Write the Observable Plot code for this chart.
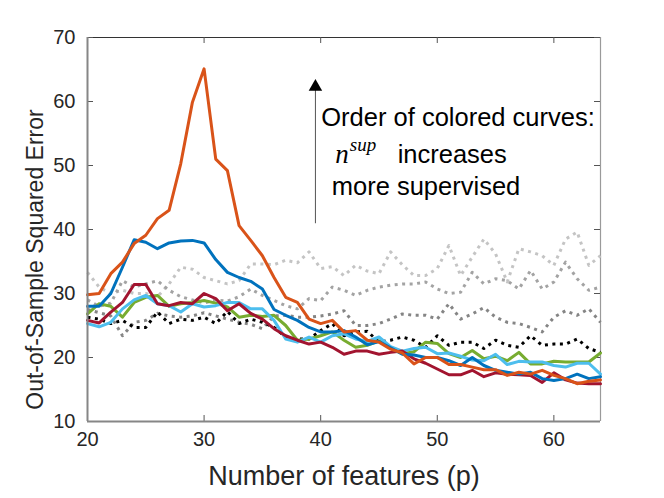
<!DOCTYPE html>
<html><head><meta charset="utf-8">
<script src="https://cdn.jsdelivr.net/npm/d3@7"></script>
<script src="https://cdn.jsdelivr.net/npm/@observablehq/plot@0.6"></script>
<style>body{margin:0;background:#fff;overflow:hidden}</style>
</head><body><div id="chart"></div>
<script>
const features = [20,21,22,23,24,25,26,27,28,29,30,31,32,33,34,35,36,37,38,39,40,41,42,43,44,45,46,47,48,49,50,51,52,53,54,55,56,57,58,59,60,61,62,63,64];

const lightGray = [33.3,31.0,30.0,30.5,30.0,30.0,29.5,31.5,34.1,33.8,32.5,32.0,31.5,32.0,34.6,34.6,34.5,35.2,34.8,36.5,33.9,34.2,32.8,34.4,33.5,33.1,36.5,34.5,32.8,32.8,33.9,37.5,32.8,35.7,38.5,36.2,31.8,37.0,36.5,35.9,34.4,38.5,39.6,34.4,35.9];
const midGray = [29.0,28.0,28.5,32.0,31.0,31.5,32.0,30.5,29.5,29.0,28.5,29.0,28.8,29.5,30.7,29.7,28.9,28.1,27.6,29.2,28.9,31.0,30.5,29.7,30.5,31.0,31.3,31.5,31.5,31.8,30.7,30.0,30.2,33.3,31.5,32.3,32.0,30.7,33.6,30.7,31.8,34.9,32.3,30.5,31.0];
const darkGray = [27.5,27.0,26.5,23.4,25.5,25.8,26.9,26.5,26.3,26.5,27.0,26.5,26.0,25.5,25.2,24.5,26.5,26.6,26.3,26.3,26.5,26.8,27.3,25.0,25.0,25.3,26.0,26.8,26.6,26.6,26.0,28.4,26.0,26.8,27.8,26.3,25.5,25.3,24.7,24.0,26.3,27.3,26.6,27.6,25.5];
const blackDotted = [26.3,26.0,25.3,25.8,24.7,24.7,27.1,25.3,26.0,25.8,26.3,25.3,27.2,25.3,26.0,25.5,24.7,23.2,22.9,22.9,24.2,25.3,23.4,24.0,24.1,22.4,22.7,23.2,22.7,21.6,23.4,21.9,22.4,22.4,21.4,22.7,21.9,21.6,23.4,21.9,22.1,22.1,22.9,21.4,20.8];
const green = [26.8,28.4,28.0,26.3,28.6,29.4,29.7,28.0,28.4,28.6,28.9,28.5,27.9,26.3,26.6,26.4,26.6,25.0,22.7,22.9,23.4,24.0,22.7,21.6,21.9,22.6,21.5,20.6,20.9,22.4,22.2,20.6,20.0,21.1,19.8,20.2,19.5,20.8,19.0,19.0,19.4,19.3,19.3,19.3,20.7];
const lightBlue = [25.3,24.8,25.5,27.6,29.0,29.7,28.4,28.1,27.1,28.4,27.9,28.1,28.6,28.6,27.6,27.6,25.8,22.9,22.4,23.2,22.4,23.4,23.7,22.9,22.5,23.2,21.7,21.0,21.4,21.6,20.6,20.7,20.2,19.6,19.5,20.5,18.9,19.4,19.3,19.3,18.75,18.5,19.1,19.1,17.4];
const crimson = [25.8,25.4,27.1,28.6,31.4,31.4,28.4,28.1,28.6,28.4,30.0,29.2,27.3,28.4,26.9,26.0,24.5,23.4,22.7,22.1,22.4,21.6,20.5,21.0,21.0,20.5,20.8,21.0,19.8,19.1,18.2,17.3,17.3,18.0,17.0,17.6,17.4,17.3,17.2,16.1,17.6,16.5,16.0,15.9,15.9];
const blue = [28.0,28.0,30.0,34.1,38.4,38.0,37.0,37.9,38.2,38.3,37.9,35.3,33.3,32.5,31.9,30.7,27.5,26.6,25.8,24.7,24.0,24.0,24.2,23.2,22.0,22.5,21.5,20.5,20.4,20.0,20.0,19.5,18.75,20.0,18.75,18.0,17.7,17.4,17.7,16.7,16.4,16.7,17.4,16.7,17.0];
const orange = [29.8,30.0,33.1,34.9,37.8,39.1,41.7,43.0,50.3,59.9,65.1,51.0,49.2,40.6,38.3,35.9,32.5,29.4,28.6,26.0,25.3,25.8,24.0,24.2,22.7,22.4,21.3,20.7,19.0,20.0,20.0,18.9,18.9,18.5,18.1,18.1,17.2,17.7,17.4,18.0,17.2,16.7,15.9,16.3,16.5];

const xTicks = [20,30,40,50,60];
const yTicks = [10,20,30,40,50,60,70];
const xLabel = "Number of features (p)";
const yLabel = "Out-of-Sample Squared Error";
const noteLines = ["Order of colored curves:", "increases", "more supervised"];
const noteX = [40.05, 46.6, 40.95];
const noteY = [57.5, 51.7, 46.6];
const arrowPos = [{x: 39.55, y1: 40.9, y2: 62.3}];

const dotted = [
  {name: "lightGray", values: lightGray, color: "#c4c4c4"},
  {name: "midGray", values: midGray, color: "#a3a3a3"},
  {name: "darkGray", values: darkGray, color: "#858585"},
  {name: "black", values: blackDotted, color: "#000000"}
];
const solid = [
  {name: "green", values: green, color: "#77AC30"},
  {name: "lightBlue", values: lightBlue, color: "#4DBEEE"},
  {name: "crimson", values: crimson, color: "#A2142F"},
  {name: "blue", values: blue, color: "#0072BD"},
  {name: "orange", values: orange, color: "#D95319"}
];
const toRows = s => features.map((p, i) => ({p, v: s.values[i]}));

const W = 664, H = 498, mL = 87, mR = 64, mT = 37, mB = 77;
const fw = W - mL - mR, fh = H - mT - mB, tl = 6;

const marks = [];
marks.push(Plot.ruleY([70], {stroke: "#333", strokeWidth: 1}));
marks.push(Plot.ruleX([64], {stroke: "#9a9a9a", strokeWidth: 1.2}));
marks.push(Plot.tickX(xTicks, {x: d => d, insetTop: fh - tl, stroke: "#555"}));
marks.push(Plot.tickX(xTicks, {x: d => d, insetBottom: fh - tl, stroke: "#555"}));
marks.push(Plot.tickY(yTicks, {y: d => d, insetRight: fw - tl, stroke: "#555"}));
marks.push(Plot.tickY(yTicks, {y: d => d, insetLeft: fw - tl, stroke: "#555"}));
for (const s of dotted) {
  marks.push(Plot.line(toRows(s), {x: "p", y: "v", stroke: s.color, strokeWidth: 3, strokeDasharray: "3,4.5", strokeLinecap: "butt"}));
}
for (const s of solid) {
  marks.push(Plot.line(toRows(s), {x: "p", y: "v", stroke: s.color, strokeWidth: 3, strokeLinejoin: "round"}));
}
marks.push(Plot.ruleX([20], {stroke: "#868686", strokeWidth: 2}));
marks.push(Plot.ruleY([10], {stroke: "#868686", strokeWidth: 2}));
marks.push(Plot.axisX({ticks: xTicks, tickSize: 0, tickPadding: 10, fontSize: 20, label: null, tickFormat: d => String(d), color: "#262626"}));
marks.push(Plot.axisY({ticks: yTicks, tickSize: 0, tickPadding: 12, fontSize: 20, label: null, tickFormat: d => String(d), color: "#262626"}));
marks.push(Plot.text([xLabel], {frameAnchor: "bottom", dy: 63, text: d => d, textAnchor: "middle", fontSize: 27, fill: "#262626"}));
marks.push(Plot.text([yLabel], {frameAnchor: "left", dx: -52, dy: 30, rotate: -90, text: d => d, textAnchor: "middle", fontSize: 23, fill: "#262626"}));
marks.push(Plot.ruleX(arrowPos, {x: "x", y1: "y1", y2: "y2", stroke: "#555", strokeWidth: 1}));
marks.push(Plot.dot(arrowPos, {x: "x", y: "y2", symbol: "triangle", r: 5, fill: "#000", stroke: "none"}));
marks.push(Plot.text(noteLines, {x: (d, i) => noteX[i], y: (d, i) => noteY[i], text: d => d, textAnchor: "start", fontSize: 25.5, fill: "#000"}));
marks.push(Plot.text(["n"], {x: [41.25], y: [51.7], text: d => d, textAnchor: "start", fontSize: 27, fontFamily: "Liberation Serif", fontStyle: "italic", fill: "#000"}));
marks.push(Plot.text(["sup"], {x: [42.5], y: [51.7], dy: -10, text: d => d, textAnchor: "start", fontSize: 19, fontFamily: "Liberation Serif", fontStyle: "italic", fill: "#000"}));

const chart = Plot.plot({
  width: W, height: H,
  marginLeft: mL, marginRight: mR, marginTop: mT, marginBottom: mB,
  x: {domain: [20, 64]},
  y: {domain: [10, 70]},
  style: {fontFamily: "'Liberation Sans', Arial, sans-serif", background: "#fff", overflow: "visible"},
  marks
});
document.getElementById("chart").appendChild(chart);
</script>
</body></html>
